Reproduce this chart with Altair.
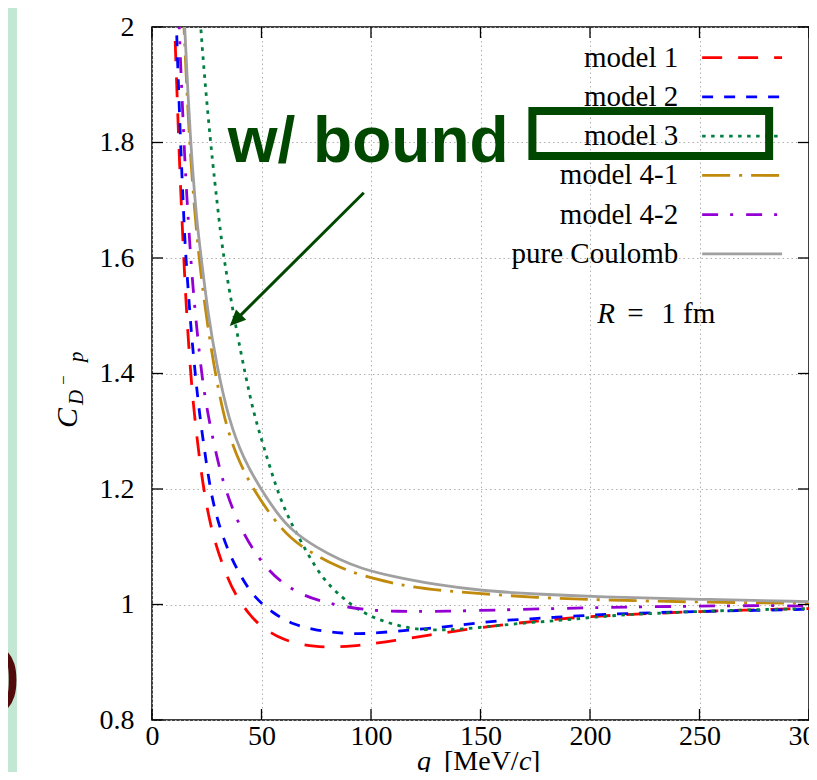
import altair as alt
import pandas as pd

# ---------------- data ----------------
models = ["model 1", "model 2", "model 3", "model 4-1", "model 4-2", "pure Coulomb"]
colors = ["#ff0000", "#0000ff", "#007f40", "#c08a0c", "#9400d3", "#a0a0a0"]
dashes = [[20, 16], [11, 11], [3.5, 5.5], [28, 9, 3, 9], [16, 12, 3, 13], []]

q_model1 = [9.8, 10.3, 11.5, 12.4, 13.7, 14.7, 15.8, 17.0, 18.5, 20.2, 22.2, 24.9, 28.7, 34.8, 38.6, 43.9,
            49.6, 57.6, 65.2, 74.3, 82.4, 91.8, 100.2, 110, 126.4, 143.5, 162.5, 180, 198, 230, 263.5, 300]
c_model1 = [2.1, 2.0, 1.88, 1.78, 1.665, 1.585, 1.505, 1.435, 1.36, 1.30, 1.236, 1.169, 1.106, 1.042, 1.014, 0.985,
            0.962, 0.943, 0.933, 0.927, 0.926, 0.928, 0.932, 0.937, 0.947, 0.957, 0.966, 0.973, 0.979, 0.985, 0.990, 0.993]

q_model2 = [10.6, 11.2, 12.0, 12.8, 13.7, 14.6, 15.2, 16.4, 17.5, 18.2, 19.5, 20.4, 21.6, 23.1, 26.4, 28.7, 31.8,
            35.9, 40.9, 46.8, 55.2, 64.4, 75.4, 86.9, 97.6, 108.8, 119.5, 129.8, 140.4, 151, 162, 172.9, 183.7,
            194.5, 205.5, 238.5, 262, 280, 300]
c_model2 = [2.1, 1.99, 1.908, 1.824, 1.741, 1.663, 1.617, 1.55, 1.495, 1.46, 1.41, 1.375, 1.335, 1.29, 1.204, 1.164,
            1.123, 1.083, 1.046, 1.012, 0.985, 0.965, 0.955, 0.950, 0.949, 0.953, 0.956, 0.960, 0.964, 0.969, 0.973,
            0.975, 0.978, 0.980, 0.983, 0.987, 0.989, 0.990, 0.992]

q_model3 = [20.5, 22, 26.6, 30.9, 32.7, 38.3, 42.5, 46.5, 50.8, 56.8, 61.4, 65.2, 71.3, 78.4, 87.2, 93.3, 100.2,
            106.5, 114.6, 123.7, 132.8, 141.2, 154.1, 167, 180.7, 193.6, 207.3, 220, 243, 265, 288, 300]
c_model3 = [2.12, 2.0, 1.8, 1.657, 1.6, 1.48, 1.4, 1.33, 1.276, 1.201, 1.158, 1.129, 1.086, 1.042, 1.011, 0.993,
            0.979, 0.970, 0.961, 0.956, 0.956, 0.957, 0.962, 0.967, 0.971, 0.975, 0.980, 0.983, 0.987, 0.990, 0.992, 0.993]

q_model41 = [13.2, 14.6, 17.0, 19.8, 21.5, 23.4, 26.6, 30.4, 34.5, 40.0, 46.2, 55, 63, 72, 85, 95, 110, 117.6,
             130, 149.5, 175, 204, 250, 300]
c_model41 = [2.12, 2.0, 1.8, 1.667, 1.6, 1.539, 1.451, 1.369, 1.30, 1.245, 1.2, 1.15, 1.115, 1.091, 1.065, 1.051,
             1.037, 1.031, 1.025, 1.019, 1.012, 1.008, 1.004, 1.002]

q_model42 = [11.7, 12.5, 13.7, 15.2, 16.3, 17.8, 19.5, 21.6, 24.2, 28.7, 32.8, 40.9, 52.3, 60.3, 69.3, 79, 89.5,
             100.2, 110, 133.6, 162.5, 184.5, 207.3, 225.5, 246.8, 268, 290, 300]
c_model42 = [2.1, 1.986, 1.88, 1.75, 1.683, 1.591, 1.515, 1.434, 1.354, 1.27, 1.205, 1.124, 1.061, 1.035, 1.015,
             1.004, 0.995, 0.990, 0.988, 0.988, 0.991, 0.993, 0.995, 0.996, 0.997, 0.998, 0.998, 0.997]

q_coulomb = [13.5, 14.9, 17.5, 20.5, 22.5, 25.5, 29.5, 35, 42, 49.7, 57, 64.4, 75, 86, 95, 110, 130, 150, 175,
             204, 250, 300]
c_coulomb = [2.12, 2.0, 1.8, 1.66, 1.6, 1.505, 1.415, 1.32, 1.25, 1.2, 1.158, 1.126, 1.099, 1.077, 1.063, 1.048,
             1.034, 1.024, 1.018, 1.013, 1.009, 1.005]

x_ticks = [0, 50, 100, 150, 200, 250, 300]
y_ticks = [0.8, 1.0, 1.2, 1.4, 1.6, 1.8, 2.0]

annotation_text = "w/ bound"
annotation_pos = [34.6, 1.766]          # left / baseline of the annotation
arrow_from = [96.7, 1.713]
arrow_head = [38.1, 1.492]              # centre of the arrow head
box_corners = [173.7, 281.8, 1.7766, 1.8545]
radius_pos = [203.3, 1.487]

# ---------------- layout ----------------
W, H = 657, 693
SERIF = "Liberation Serif"
DARKGREEN = "#004800"
xs = alt.Scale(domain=[0, 300], nice=False, zero=False)
ys = alt.Scale(domain=[0.8, 2.0], nice=False, zero=False)

xaxis = alt.Axis(values=x_ticks, grid=True, gridDash=[1.5, 3], gridColor="#b0b0b0", gridWidth=1,
                 ticks=False, domain=False, labelFont=SERIF, labelFontSize=28, labelColor="black",
                 labelPadding=2, labelFlush=False, labelOverlap=False, title=None)
yaxis = alt.Axis(values=y_ticks, grid=True, gridDash=[1.5, 3], gridColor="#b0b0b0", gridWidth=1,
                 ticks=False, domain=False, labelFont=SERIF, labelFontSize=28, labelColor="black",
                 labelPadding=18, labelFlush=False, labelOverlap=False, format="~g", title=None)


def X(field):
    return alt.X(field, type="quantitative", scale=xs, axis=xaxis)


def Y(field):
    return alt.Y(field, type="quantitative", scale=ys, axis=yaxis)


series = [(q_model1, c_model1), (q_model2, c_model2), (q_model3, c_model3),
          (q_model41, c_model41), (q_model42, c_model42), (q_coulomb, c_coulomb)]

layers = []

# curves
for i, (name, (qs, cs)) in enumerate(zip(models, series)):
    d = pd.DataFrame({"q": qs, "C": cs, "model": name})
    kw = dict(clip=True, color=colors[i], strokeWidth=2.8, interpolate="basis")
    if dashes[i]:
        kw["strokeDash"] = dashes[i]
    layers.append(alt.Chart(d).mark_line(**kw).encode(x=X("q"), y=Y("C")))

# inward ticks on all four sides
yt = pd.DataFrame({"C": y_ticks})
xt = pd.DataFrame({"q": x_ticks})
layers.append(alt.Chart(yt).mark_rule(color="black", strokeWidth=1.3).encode(
    y=Y("C"), x=alt.value(0), x2=alt.value(11)))
layers.append(alt.Chart(yt).mark_rule(color="black", strokeWidth=1.3).encode(
    y=Y("C"), x=alt.value(W - 11), x2=alt.value(W)))
layers.append(alt.Chart(xt).mark_rule(color="black", strokeWidth=1.3).encode(
    x=X("q"), y=alt.value(H - 11), y2=alt.value(H)))
layers.append(alt.Chart(xt).mark_rule(color="black", strokeWidth=1.3).encode(
    x=X("q"), y=alt.value(0), y2=alt.value(11)))

# legend (gnuplot style: label, then line sample)
leg_top, leg_step = 1.947, 0.068
leg_label_x, leg_x1, leg_x2 = 240.3, 251.2, 287.7
for i, name in enumerate(models):
    yv = leg_top - i * leg_step
    ld = pd.DataFrame({"label": [name], "lx": [leg_label_x], "ly": [yv], "x1": [leg_x1], "x2": [leg_x2]})
    layers.append(alt.Chart(ld).mark_text(font=SERIF, fontSize=29, color="black", align="right",
                                          baseline="middle").encode(
        x=X("lx"), y=Y("ly"), text="label:N"))
    kw = dict(color=colors[i], strokeWidth=2.8)
    if dashes[i]:
        kw["strokeDash"] = dashes[i]
    layers.append(alt.Chart(ld).mark_rule(**kw).encode(x=X("x1"), x2="x2:Q", y=Y("ly")))

# box around "model 3"
bd = pd.DataFrame({"x1": [box_corners[0]], "x2": [box_corners[1]], "y1": [box_corners[2]], "y2": [box_corners[3]]})
layers.append(alt.Chart(bd).mark_rect(fillOpacity=0, stroke=DARKGREEN, strokeWidth=8).encode(
    x=X("x1"), x2="x2:Q", y=Y("y1"), y2="y2:Q"))

# annotation text and arrow
ad = pd.DataFrame({"t": [annotation_text], "x": [annotation_pos[0]], "y": [annotation_pos[1]]})
layers.append(alt.Chart(ad).mark_text(font="Liberation Sans", fontWeight="bold", fontSize=64, color=DARKGREEN,
                                      align="left", baseline="alphabetic").encode(
    x=X("x"), y=Y("y"), text="t:N"))
ar = pd.DataFrame({"x1": [arrow_from[0]], "y1": [arrow_from[1]], "x2": [arrow_head[0]], "y2": [arrow_head[1]]})
layers.append(alt.Chart(ar).mark_rule(color=DARKGREEN, strokeWidth=3).encode(
    x=X("x1"), y=Y("y1"), x2="x2:Q", y2="y2:Q"))
layers.append(alt.Chart(ar).mark_point(shape="M1,0L-1,-0.9L-1,0.9Z", filled=True, size=256, opacity=1,
                                       color=DARKGREEN, angle=135).encode(x=X("x2"), y=Y("y2")))

# R = 1 fm
rd = pd.DataFrame({"a": ["R"], "b": ["="], "c": ["1 fm"], "x": [radius_pos[0]], "y": [radius_pos[1]]})
layers.append(alt.Chart(rd).mark_text(font=SERIF, fontStyle="italic", fontSize=29, color="black", align="left",
                                      baseline="alphabetic").encode(x=X("x"), y=Y("y"), text="a:N"))
layers.append(alt.Chart(rd).mark_text(font=SERIF, fontSize=29, color="black", align="left",
                                      baseline="alphabetic", dx=30).encode(x=X("x"), y=Y("y"), text="b:N"))
layers.append(alt.Chart(rd).mark_text(font=SERIF, fontSize=29, color="black", align="left",
                                      baseline="alphabetic", dx=64).encode(x=X("x"), y=Y("y"), text="c:N"))

# slide decoration at the left edge
deco = pd.DataFrame({"t": [")"]})
layers.append(alt.Chart(deco).mark_rect(color="#c2e7d2").encode(
    x=alt.value(-144), x2=alt.value(-135), y=alt.value(-19), y2=alt.value(H + 60)))
layers.append(alt.Chart(deco).mark_text(font=SERIF, fontSize=82, color="#520a0a", align="right",
                                         baseline="alphabetic").encode(
    x=alt.value(-132), y=alt.value(673), text="t:N"))

# axis titles built from pieces (italic symbols)
td = pd.DataFrame({"t": ["q", "[MeV/", "c", "]", "C", "D", "\u2212", "p"]})


def piece(idx, x, y, size=28, italic=False, angle=0):
    kw = dict(font=SERIF, fontSize=size, color="black", align="left", baseline="alphabetic")
    if italic:
        kw["fontStyle"] = "italic"
    if angle:
        kw["angle"] = angle
    return alt.Chart(td.iloc[[idx]]).mark_text(**kw).encode(x=alt.value(x), y=alt.value(y), text="t:N")


layers.append(piece(0, 265, 743, italic=True))
layers.append(piece(1, 292, 743))
layers.append(piece(2, 367, 743, italic=True))
layers.append(piece(3, 379, 743))
layers.append(piece(4, -75, 401, size=30, italic=True, angle=270))
layers.append(piece(5, -69, 378, size=21, italic=True, angle=270))
layers.append(piece(6, -83, 358, size=17, angle=270))
layers.append(piece(7, -69, 335, size=21, italic=True, angle=270))

chart = alt.layer(*layers).properties(
    width=W, height=H, background="white",
    autosize=alt.AutoSizeParams(type="none"),
    padding={"left": 144, "top": 19, "right": 0, "bottom": 52},
).configure_view(stroke="black", strokeWidth=1.5)

chart.save("out.html", embed_options={"renderer": "svg", "actions": False})
